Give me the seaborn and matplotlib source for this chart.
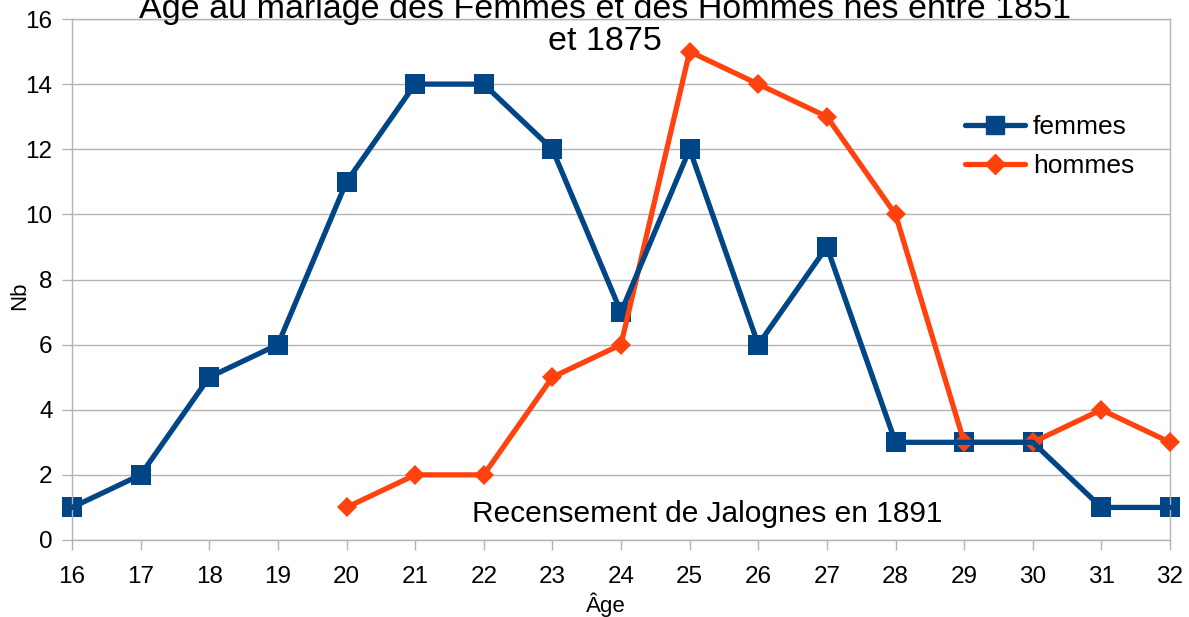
import matplotlib
matplotlib.use('Agg')
import matplotlib.pyplot as plt
import seaborn as sns
import pandas as pd
from matplotlib.lines import Line2D

# data
ages_femmes = [16, 17, 18, 19, 20, 21, 22, 23, 24, 25, 26, 27, 28, 29, 30, 31, 32]
nb_femmes = [1, 2, 5, 6, 11, 14, 14, 12, 7, 12, 6, 9, 3, 3, 3, 1, 1]
ages_hommes = [20, 21, 22, 23, 24, 25, 26, 27, 28, 29, 30, 31, 32]
nb_hommes = [1, 2, 2, 5, 6, 15, 14, 13, 10, 3, 3, 4, 3]
x_ticks = list(range(16, 33))
y_ticks = list(range(0, 17, 2))

title = 'Âge au mariage des Femmes et des Hommes nés entre 1851\net 1875'
note = 'Recensement de Jalognes en 1891'

blue = '#004586'
orange = '#ff420e'
grey = '#b3b3b3'

df_f = pd.DataFrame({'age': ages_femmes, 'nb': nb_femmes})
df_h = pd.DataFrame({'age': ages_hommes, 'nb': nb_hommes})

sns.set_style('white')
plt.rcParams['font.family'] = ['Liberation Sans', 'DejaVu Sans']
plt.rcParams['text.color'] = 'black'
plt.rcParams['axes.labelcolor'] = 'black'

fig = plt.figure(figsize=(11.89, 6.17), dpi=100)
ax = fig.add_axes([72 / 1189, 1 - 540 / 617, 1098 / 1189, 521 / 617])

# femmes markers below, hommes line in the middle, femmes line on top
sns.scatterplot(data=df_f, x='age', y='nb', marker='s', s=190, color=blue,
                linewidth=0, ax=ax, zorder=2, legend=False, clip_on=False)
sns.lineplot(data=df_h, x='age', y='nb', color=orange, linewidth=3.8,
             marker='D', markersize=10, markeredgewidth=0, ax=ax, zorder=3,
             clip_on=False)
sns.lineplot(data=df_f, x='age', y='nb', color=blue, linewidth=3.8, ax=ax, zorder=4,
             clip_on=False)

ax.set_xlim(16, 32)
ax.set_ylim(0, 16)
ax.set_xticks(x_ticks)
ax.set_yticks(y_ticks)
ax.yaxis.grid(True, color=grey, linewidth=1.0)
ax.set_axisbelow(True)
for s in ax.spines.values():
    s.set_color(grey)
    s.set_linewidth(1.0)
ax.tick_params(axis='both', length=7, width=1.0, color=grey, labelsize=17.5,
               labelcolor='black', direction='out', left=True, bottom=True)
ax.tick_params(axis='y', pad=7)
ax.tick_params(axis='x', pad=12)
ax.set_xlabel('Âge', fontsize=16)
ax.set_ylabel('Nb', fontsize=16)
ax.xaxis.set_label_coords((606 - 72) / 1098, -(605 - 540) / 521)
ax.yaxis.set_label_coords(-(72 - 20) / 1098, (540 - 296) / 521)
ax.xaxis.label.set_va('center')
ax.yaxis.label.set_va('center')

ax.text(21.83, 0.55, note, fontsize=21.5, ha='left', va='baseline')

fig.text(605 / 1189, 1 - 23 / 617, title, fontsize=24.5, ha='center', va='center',
         linespacing=1.08)

handles = [
    Line2D([0], [0], color=blue, linewidth=3.8, marker='s', markersize=13.5),
    Line2D([0], [0], color=orange, linewidth=3.8, marker='D', markersize=10),
]
ax.legend(handles, ['femmes', 'hommes'], loc='upper left',
          bbox_to_anchor=((965 - 72) / 1098, 1 - (115 - 19) / 521),
          frameon=False, fontsize=19, handlelength=2.27, handletextpad=0.3,
          labelspacing=0.57, borderaxespad=0, borderpad=0)

fig.savefig('out.png', dpi=100)
